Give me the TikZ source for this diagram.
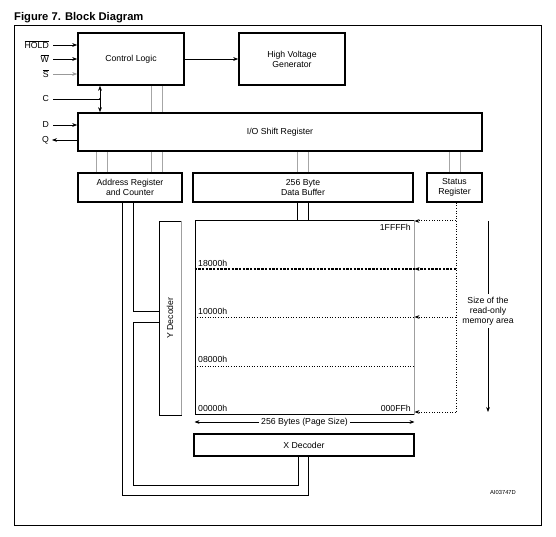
\documentclass[tikz,border=0pt]{standalone}
\usepackage{fontspec}
\setmainfont{Liberation Sans}
\usetikzlibrary{arrows.meta}
\begin{document}
\begin{tikzpicture}[x=1pt,y=-1pt,
  every node/.style={font=\fontsize{8.7}{10}\selectfont, inner sep=0pt},
  blk/.style={draw, line width=1.6pt, align=center, anchor=center},
  thin/.style={line width=0.7pt},
  bus/.style={draw=gray!70, line width=0.8pt},
  tip/.style={-{Stealth[length=5pt,width=3.8pt]}},
  dots/.style={line width=1pt, dash pattern=on 1pt off 1.6pt},
  lbl/.style={anchor=east}
]
\useasboundingbox (0,0) rectangle (556,537);
% frame and title
\draw[line width=1pt] (14,26) rectangle (541,525);
\node[anchor=west, font=\fontsize{11.2}{13}\selectfont\bfseries] (title) at (14,17.5) {Figure 7. Block Diagram};

% boxes
\node[blk, minimum width=106, minimum height=52] (ctrl) at (131,59) {Control Logic};
\node[blk, minimum width=106, minimum height=52] (hv) at (292,59) {High Voltage\\Generator};
\node[blk, minimum width=404, minimum height=38] (io) at (280,132) {I/O Shift Register};
\node[blk, minimum width=104, minimum height=29] (addr) at (130,187.5) {Address Register\\and Counter};
\node[blk, minimum width=220, minimum height=29] (buf) at (303,187.5) {256 Byte\\Data Buffer};
\node[blk, minimum width=55, minimum height=29] (stat) at (454.5,187.5) {Status\\Register};
\node[draw, line width=1pt, minimum width=219, minimum height=193] (arr) at (304.5,317.5) {};
\draw[draw=gray!75, line width=1.4pt] (arr.north east) -- (arr.south east);
\node[draw, line width=0.9pt, minimum width=22, minimum height=194] (ydec) at (170,318) {};
\draw[draw=gray!75, line width=1.2pt] (ydec.north east) -- (ydec.south east);
\node[rotate=90] (ydeclbl) at (170,318) {Y Decoder};
\node[blk, minimum width=220, minimum height=22] (xdec) at (304,445) {X Decoder};

% inputs
\node[lbl] (hold) at (49,45) {$\overline{\hbox{HOLD}}$};
\node[lbl] (w) at (49,59) {$\overline{\hbox{W}}$};
\node[lbl] (s) at (49,74) {$\overline{\hbox{S}}$};
\node[lbl] (c) at (49,99) {C};
\node[lbl] (d) at (49,125) {D};
\node[lbl] (q) at (49,140) {Q};
\coordinate (holdin) at (53,45);
\coordinate (win) at (53,59);
\coordinate (sin) at (53,74);
\coordinate (cin) at (53,99);
\coordinate (din) at (53,125);
\coordinate (qout) at (52,140);
\coordinate (cdot) at (100,99);
\draw[thin, tip] (holdin) -- (holdin -| ctrl.west);
\draw[thin, tip] (win) -- (win -| ctrl.west);
\draw[thin, tip, draw=gray!80] (sin) -- (sin -| ctrl.west);
\draw[thin] (cin) -- (cdot);
\fill (cdot) circle (1.2pt);
\draw[thin, {Stealth[length=5pt,width=3.8pt]}-{Stealth[length=5pt,width=3.8pt]}] (cdot |- ctrl.south) -- (cdot |- io.north);
\draw[thin, tip] (din) -- (din -| io.west);
\draw[thin, tip] (qout -| io.west) -- (qout);

% control to HV
\draw[thin, tip] (ctrl.east) -- (hv.west);

% buses
\draw[bus] ([xshift=20]ctrl.south) -- ([xshift=20]ctrl.south |- io.north);
\draw[bus] ([xshift=31]ctrl.south) -- ([xshift=31]ctrl.south |- io.north);
\draw[bus] ([xshift=-34]addr.north) -- ([xshift=-34]addr.north |- io.south);
\draw[bus] ([xshift=-23]addr.north) -- ([xshift=-23]addr.north |- io.south);
\draw[bus] ([xshift=21]addr.north) -- ([xshift=21]addr.north |- io.south);
\draw[bus] ([xshift=32]addr.north) -- ([xshift=32]addr.north |- io.south);
\draw[bus] ([xshift=-5.5]buf.north) -- ([xshift=-5.5]buf.north |- io.south);
\draw[bus] ([xshift=5.5]buf.north) -- ([xshift=5.5]buf.north |- io.south);
\draw[bus] ([xshift=-5.5]stat.north) -- ([xshift=-5.5]stat.north |- io.south);
\draw[bus] ([xshift=5.5]stat.north) -- ([xshift=5.5]stat.north |- io.south);
\draw[draw=black, line width=0.7pt] ([xshift=-5.5]buf.south) -- ([xshift=-5.5]buf.south |- arr.north);
\draw[draw=black, line width=0.7pt] ([xshift=5.5]buf.south) -- ([xshift=5.5]buf.south |- arr.north);

% address lines
\coordinate (ya) at (159,311);
\coordinate (yb) at (159,322);
\draw[thin] ([xshift=3]addr.south) |- (ya);
\draw[thin] (yb) -| (133,485) -| ([xshift=-6]xdec.south);
\draw[thin] ([xshift=-8]addr.south) |- (308,495) -- ([xshift=4]xdec.south);

% memory lines
\coordinate (l18) at (0,269);
\coordinate (l10) at (0,317);
\coordinate (l08) at (0,366);
\coordinate (stx) at (456,0);
\draw[line width=1.4pt, dash pattern=on 2.4pt off 1.3pt] (l18 -| arr.west) -- (l18 -| arr.east);
\draw[dots] (l10 -| arr.west) -- (l10 -| arr.east);
\draw[dots] (l08 -| arr.west) -- (l08 -| arr.east);
\coordinate (topr) at (456,221);
\coordinate (botr) at (456,412);
\draw[dots] (stat.south -| stx) -- (botr);
\draw[dots, tip] (topr) -- (topr -| arr.east);
\draw[line width=1.4pt, dash pattern=on 2.4pt off 1.3pt, tip] (l18 -| stx) -- (l18 -| arr.east);
\draw[dots, tip] (l10 -| stx) -- (l10 -| arr.east);
\draw[dots, tip] (botr) -- (botr -| arr.east);

% memory labels
\node[anchor=east] (a1f) at (411,227) {1FFFFh};
\node[anchor=west] (a18) at (198,263) {18000h};
\node[anchor=west] (a10) at (198,311) {10000h};
\node[anchor=west] (a08) at (198,359) {08000h};
\node[anchor=west] (a00) at (198,408) {00000h};
\node[anchor=east] (aff) at (411,408) {000FFh};

% size arrow
\node[align=center, inner sep=3pt] (sz) at (488,311) {Size of the\\read-only\\memory area};
\coordinate (sztop) at (488,221);
\coordinate (szbot) at (488,412);
\draw[thin] (sztop) -- (sz.north);
\draw[thin, tip] (sz.south) -- (szbot);

% page size arrow
\node[inner sep=2pt] (pg) at (304.5,422) {256 Bytes (Page Size)};
\draw[thin, tip] (pg.west) -- (pg.west -| arr.west);
\draw[thin, tip] (pg.east) -- (pg.east -| arr.east);

\node[font=\fontsize{5.8}{7}\selectfont] (code) at (503,492) {AI03747D};
\end{tikzpicture}
\end{document}
